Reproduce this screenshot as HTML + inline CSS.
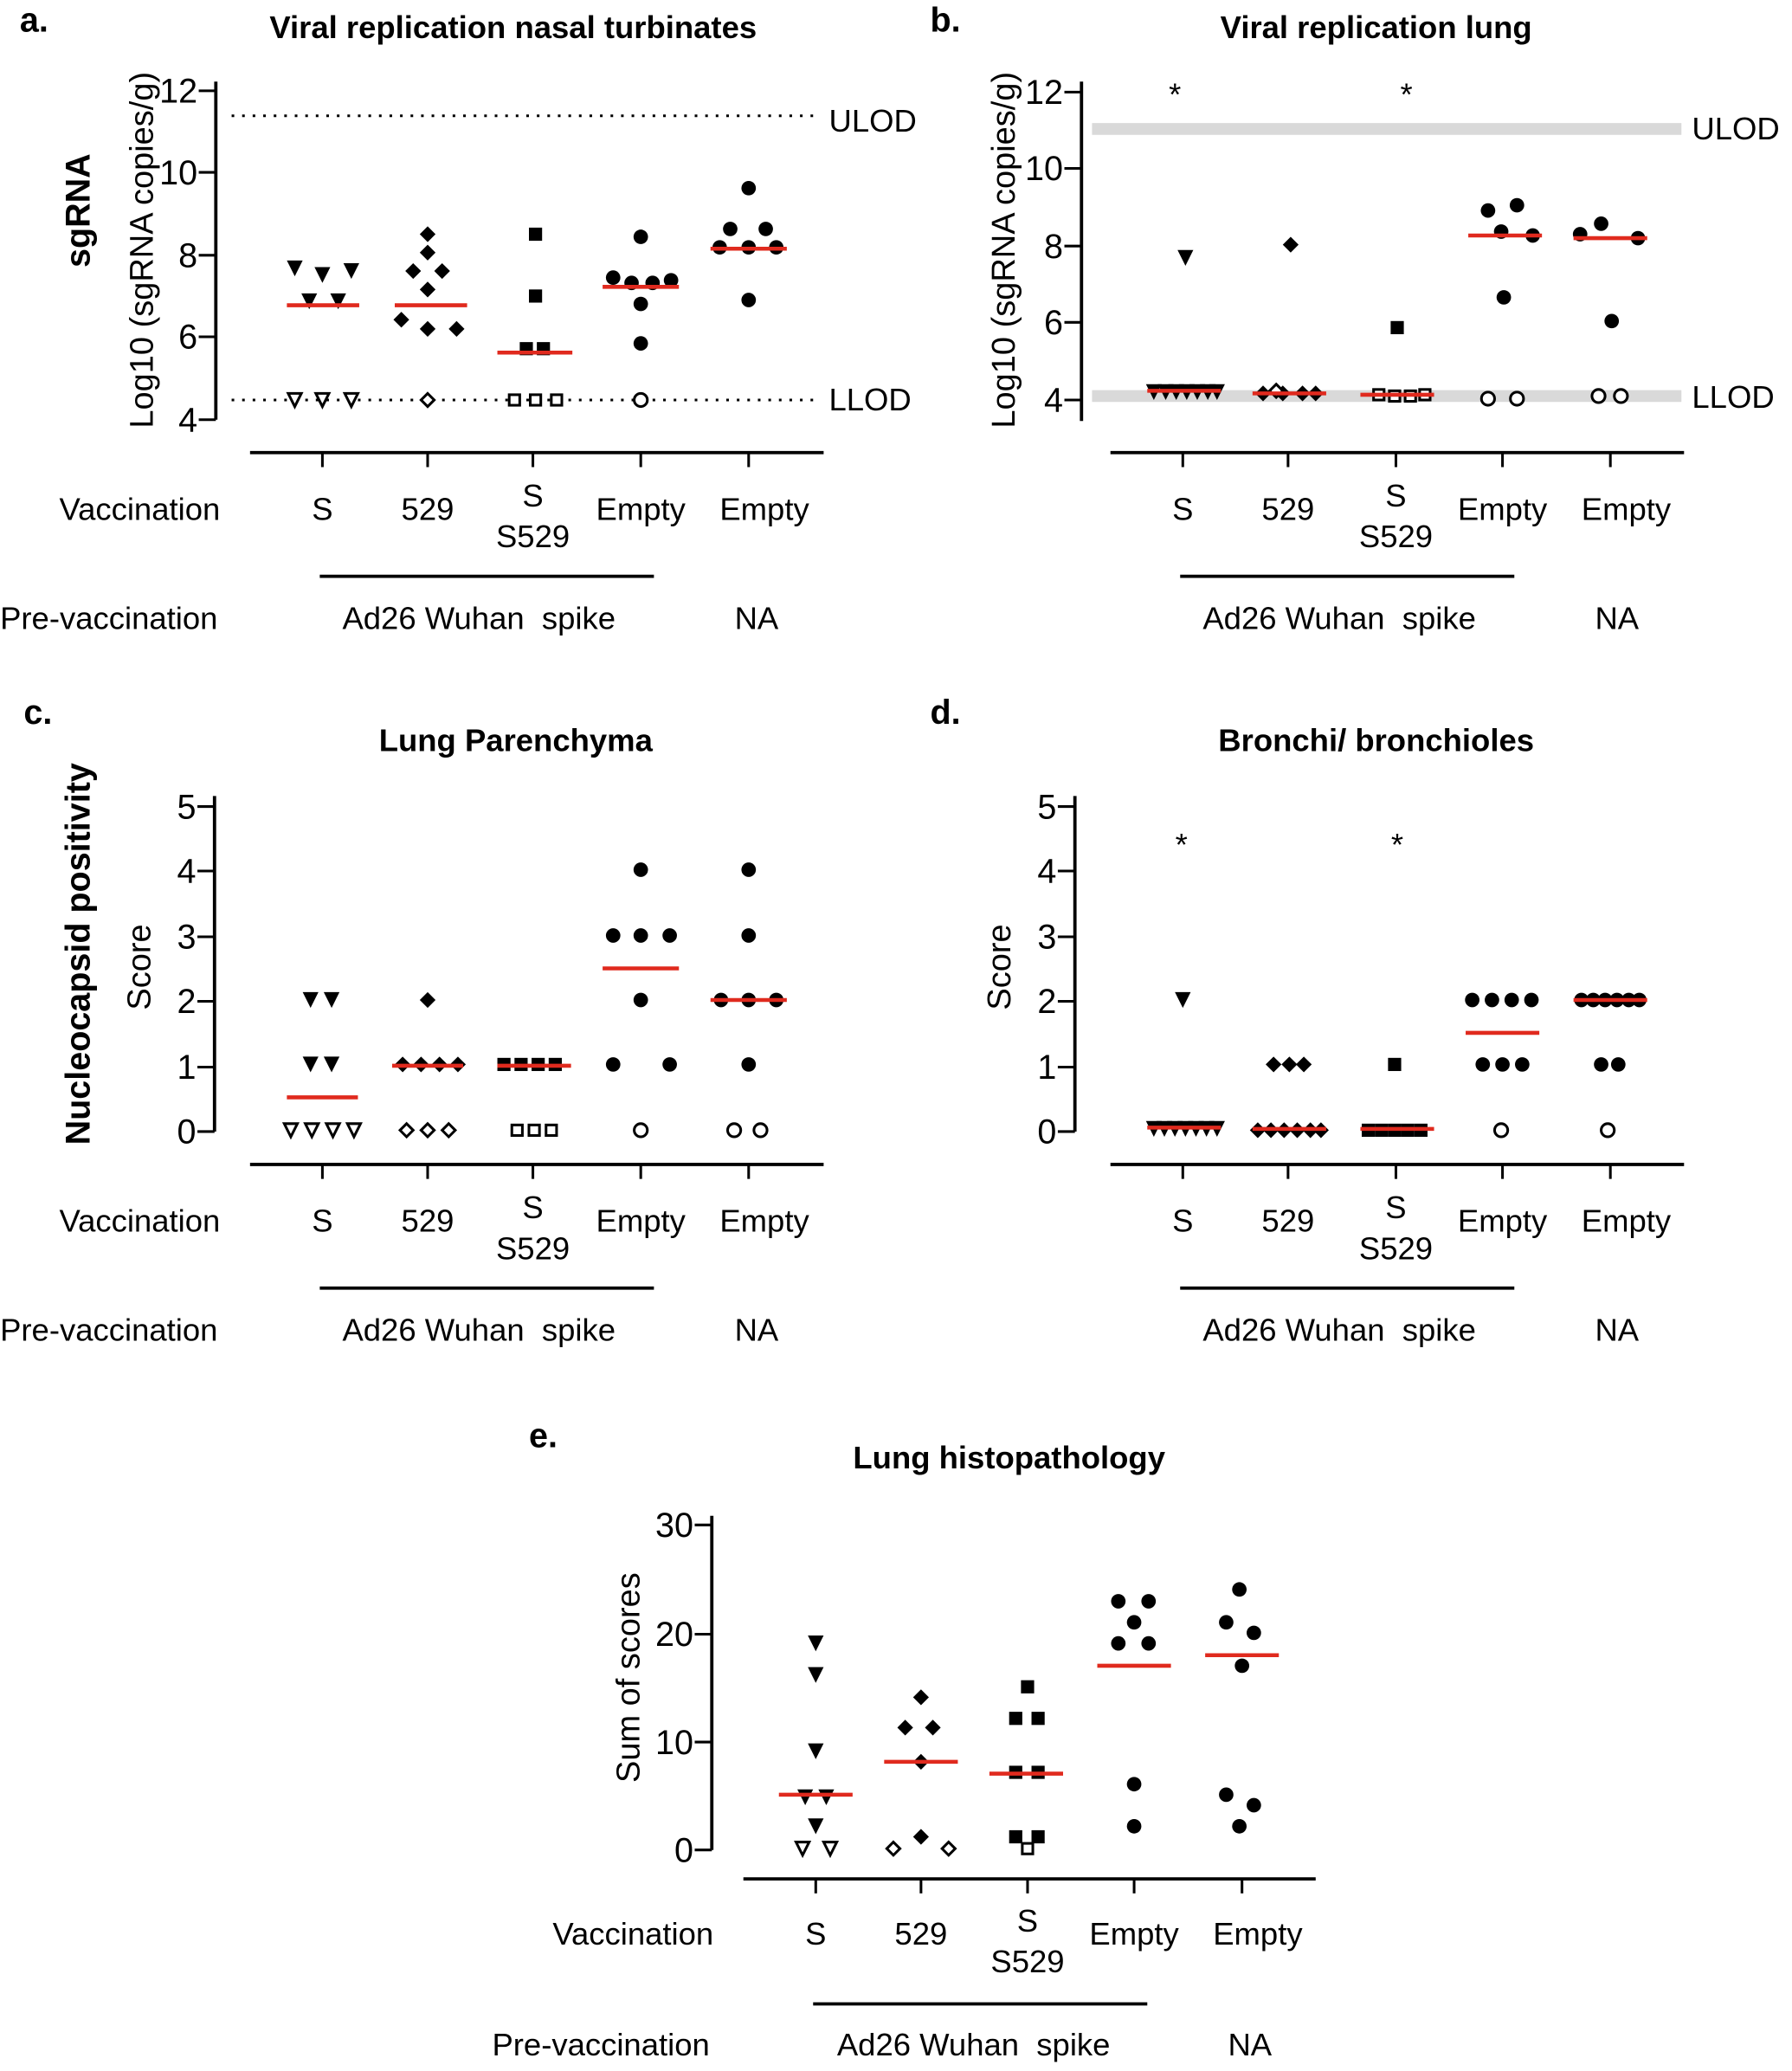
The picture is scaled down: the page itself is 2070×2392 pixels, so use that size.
<!DOCTYPE html>
<html><head><meta charset="utf-8"><style>
html,body{margin:0;padding:0;background:#fff;}
svg{display:block;}
text{font-family:"Liberation Sans",Arial,sans-serif;fill:#000;}
</style></head><body>
<svg id="s" width="2070" height="2392" viewBox="0 0 1362 1574" xmlns="http://www.w3.org/2000/svg"></svg>
<script>
const S=document.getElementById('s');let h='';
function T(x,y,t,o={}){h+=`<text x="${x}" y="${y}" font-size="${o.fs||24}" ${o.b?'font-weight="bold"':''} text-anchor="${o.a||(o.r?'middle':'start')}" ${o.r?`transform="rotate(-90 ${x} ${y})"`:''}>${t}</text>`;}
function L(x1,y1,x2,y2,o={}){h+=`<line x1="${x1}" y1="${y1}" x2="${x2}" y2="${y2}" stroke="${o.c||'#000'}" stroke-width="${o.w||2}" ${o.d?`stroke-dasharray="${o.d}"`:''}/>`;}
function M(type,x,y,open){const f=open?'fill="#fff" stroke="#000" stroke-width="2"':'fill="#000"';const s=open?5:6;
 if(type=='t')h+=`<polygon points="${x-s},${y-s} ${x+s},${y-s} ${x},${y+s}" ${f}/>`;
 else if(type=='d')h+=`<polygon points="${x},${y-s} ${x+s},${y} ${x},${y+s} ${x-s},${y}" ${f}/>`;
 else if(type=='s')h+=`<rect x="${x-(s-1)}" y="${y-(s-1)}" width="${2*(s-1)}" height="${2*(s-1)}" ${f}/>`;
 else h+=`<circle cx="${x}" cy="${y}" r="${open?5:5.5}" ${f}/>`;}
function P(type,arr,open){arr.forEach(p=>M(type,p[0],p[1],open));}
function R(x1,x2,y){L(x1,y,x2,y,{c:'#e02a1e',w:3});}
function Yax(x,ticks,y0,y1){L(x,y0,x,y1,{w:2.5});ticks.forEach(t=>{L(x-13,t[1],x,t[1]);T(x-14,t[1]+9,t[0],{a:'end',fs:26});});}
function bottom(dx,by,cx,lab){
 L(190+dx,by,626+dx,by,{w:2.5});
 cx.forEach(c=>L(c,by,c,by+11));
 const vy=by+51;if(lab)T(45,vy,'Vaccination');
 T(cx[0],vy,'S',{a:'middle'});T(cx[1],vy,'529',{a:'middle'});
 T(cx[2],vy-10,'S',{a:'middle'});T(cx[2],vy+21,'S529',{a:'middle'});
 T(cx[3],vy,'Empty',{a:'middle'});T(cx[4]+12,vy,'Empty',{a:'middle'});
 L(243+dx,by+94,497+dx,by+94,{w:2.5});
 if(lab)T(0,by+134,'Pre-vaccination');T(364+dx,by+134,'Ad26 Wuhan&#160;&#160;spike',{a:'middle'});T(575+dx,by+134,'NA',{a:'middle'});}
// Panel a
T(15,24,'a.',{b:1,fs:26});T(390,29,'Viral replication nasal turbinates',{b:1,a:'middle'});
T(68,160,'sgRNA',{b:1,r:1,fs:26});T(116,190,'Log10 (sgRNA copies/g)',{r:1,fs:25});
Yax(164,[['12',69],['10',131],['8',194],['6',256],['4',319]],62,319);
L(176,88,622,88,{d:'2,6'});L(176,304,622,304,{d:'2,6'});T(630,100,'ULOD');T(630,312,'LLOD');
P('t',[[224,204],[245,209],[267,206],[235,229],[257,229]]);P('t',[[224,304],[245,304],[267,304]],1);R(218,273,232);
P('d',[[325,178],[325,192],[314,206],[336,206],[325,220],[305,243],[325,250],[347,250]]);P('d',[[325,304]],1);R(300,355,232);
P('s',[[407,178],[407,225],[400,265],[413,265]]);P('s',[[391,304],[407,304],[423,304]],1);R(378,435,268);
P('c',[[487,180],[466,211],[480,215],[496,215],[510,213],[487,231],[487,261]]);P('c',[[487,304]],1);R(458,516,218);
P('c',[[569,143],[555,174],[582,174],[547,188],[569,188],[590,188],[569,228]]);R(540,598,189);
bottom(0,344,[245,325,405,487,569],1);
// Panel b
T(707,24,'b.',{b:1,fs:26});T(1046,29,'Viral replication lung',{b:1,a:'middle'});
T(771,190,'Log10 (sgRNA copies/g)',{r:1,fs:25});
Yax(822,[['12',70],['10',128],['8',187],['6',245],['4',304]],62,320);
L(830,98,1278,98,{c:'#d9d9d9',w:9});L(830,301,1278,301,{c:'#d9d9d9',w:9});T(1286,106,'ULOD');T(1286,310,'LLOD');
T(893,80,'*',{a:'middle'});T(1069,80,'*',{a:'middle'});
P('t',[[901,196],[877,298],[886,298],[894,298],[902,298],[910,298],[918,298],[925,298]]);R(872,928,297);
P('d',[[981,186],[960,299],[975,299],[990,299],[1000,299]]);P('d',[[970,297]],1);R(952,1008,299);
P('s',[[1062,249]]);P('s',[[1048,300],[1060,301],[1072,301],[1083,300]],1);R(1034,1090,300);
P('c',[[1131,160],[1153,156],[1141,176],[1165,179],[1143,226]]);P('c',[[1131,303],[1153,303]],1);R(1116,1172,179);
P('c',[[1201,178],[1217,170],[1245,181],[1225,244]]);P('c',[[1215,301],[1232,301]],1);R(1196,1252,181);
bottom(654,344,[899,979,1061,1142,1224],0);
// Panel c
T(18,550,'c.',{b:1,fs:26});T(392,571,'Lung Parenchyma',{b:1,a:'middle'});
T(68,725,'Nucleocapsid positivity',{b:1,r:1,fs:26});T(114,735,'Score',{r:1,fs:25});
Yax(163,[['5',613],['4',662],['3',712],['2',761],['1',811],['0',860]],605,860);
P('t',[[236,760],[252,760],[236,809],[252,809]]);P('t',[[221,859],[237,859],[253,859],[269,859]],1);R(218,272,834);
P('d',[[325,760],[306,809],[320,809],[334,809],[348,809]]);P('d',[[309,859],[325,859],[341,859]],1);R(298,352,810);
P('s',[[383,809],[396,809],[409,809],[422,809]]);P('s',[[393,859],[406,859],[419,859]],1);R(378,434,810);
P('c',[[487,661],[466,711],[487,711],[509,711],[487,760],[466,809],[509,809]]);P('c',[[487,859]],1);R(458,516,736);
P('c',[[569,661],[569,711],[548,760],[569,760],[590,760],[569,809]]);P('c',[[558,859],[578,859]],1);R(540,598,760);
bottom(0,885,[245,325,405,487,569],1);
// Panel d
T(707,550,'d.',{b:1,fs:26});T(1046,571,'Bronchi/ bronchioles',{b:1,a:'middle'});
T(768,735,'Score',{r:1,fs:25});
Yax(817,[['5',613],['4',662],['3',712],['2',761],['1',811],['0',860]],605,860);
T(898,650,'*',{a:'middle'});T(1062,650,'*',{a:'middle'});
P('t',[[899,760],[877,858],[885,858],[893,858],[901,858],[909,858],[917,858],[925,858]]);R(872,928,857);
P('d',[[968,809],[980,809],[991,809],[956,859],[966,859],[976,859],[986,859],[996,859],[1004,859]]);R(952,1008,858);
P('s',[[1060,809],[1040,859],[1050,859],[1060,859],[1070,859],[1080,859]]);R(1034,1090,858);
P('c',[[1119,760],[1134,760],[1149,760],[1164,760],[1127,809],[1142,809],[1157,809]]);P('c',[[1141,859]],1);R(1114,1170,785);
P('c',[[1202,760],[1211,760],[1220,760],[1229,760],[1238,760],[1246,760],[1217,809],[1230,809]]);P('c',[[1222,859]],1);R(1196,1252,760);
bottom(654,885,[899,979,1061,1142,1224],0);
// Panel e
T(402,1100,'e.',{b:1,fs:26});T(767,1116,'Lung histopathology',{b:1,a:'middle'});
T(486,1275,'Sum of scores',{r:1,fs:25});
Yax(541,[['30',1159],['20',1242],['10',1324],['0',1406]],1152,1406);
const o=3;const sh=a=>a.map(p=>[p[0],p[1]+o]);
P('t',sh([[620,1246],[620,1270],[620,1328],[612,1363],[628,1363],[620,1385]]));P('t',sh([[610,1402],[631,1402]]),1);R(592,648,1361+o);
P('d',sh([[700,1287],[688,1310],[709,1310],[700,1336],[700,1393]]));P('d',sh([[679,1402],[721,1402]]),1);R(672,728,1336+o);
P('s',sh([[781,1279],[772,1303],[789,1303],[772,1344],[789,1344],[772,1393],[789,1393]]));P('s',sh([[781,1402]]),1);R(752,808,1345+o);
P('c',sh([[850,1214],[873,1214],[862,1230],[850,1246],[873,1246],[862,1353],[862,1385]]));R(834,890,1263+o);
P('c',sh([[942,1205],[932,1230],[953,1238],[944,1263],[932,1361],[953,1369],[942,1385]]));R(916,972,1255+o);
L(565,1428,1000,1428,{w:2.5});[620,700,781,862,944].forEach(c=>L(c,1428,c,1439));
T(420,1478,'Vaccination');T(620,1478,'S',{a:'middle'});T(700,1478,'529',{a:'middle'});
T(781,1468,'S',{a:'middle'});T(781,1499,'S529',{a:'middle'});T(862,1478,'Empty',{a:'middle'});T(956,1478,'Empty',{a:'middle'});
L(618,1523,872,1523,{w:2.5});T(374,1562,'Pre-vaccination');T(740,1562,'Ad26 Wuhan&#160;&#160;spike',{a:'middle'});T(950,1562,'NA',{a:'middle'});
S.innerHTML=h;
</script>
</body></html>
